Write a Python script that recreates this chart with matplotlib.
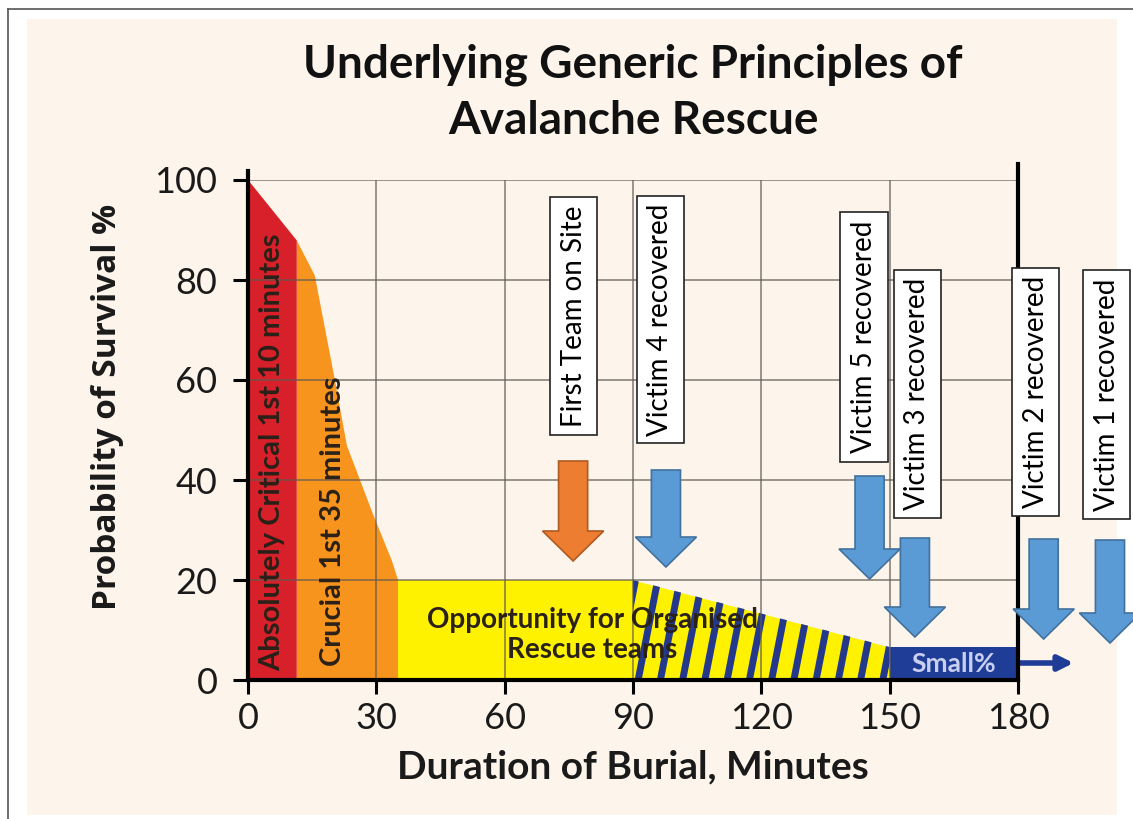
import numpy as np
import matplotlib.pyplot as plt
from matplotlib.patches import Polygon, Rectangle

# survival curve (minutes, %)
minutes = [0, 11.3, 15.5, 20, 23, 29, 33.5, 35, 90, 150, 180]
survival = [100, 88, 81, 61, 47, 33.5, 24, 20, 20, 6.6, 6.6]

zone_edges = [0, 11.3, 35, 90, 150, 180]
zone_colors = ['#d7202a', '#f7941d', '#fff200', '#fff200', '#1f3d97']

x_ticks = [0, 30, 60, 90, 120, 150, 180]
y_ticks = [0, 20, 40, 60, 80, 100]

# callouts: label, time (min), box bottom/top (%), arrow top/tip (%)
event_labels = ['First Team on Site', 'Victim 4 recovered', 'Victim 5 recovered',
                'Victim 3 recovered', 'Victim 2 recovered', 'Victim 1 recovered']
event_box_x = [76.1, 96.4, 144.0, 156.4, 184.1, 200.7]
event_arrow_x = [76.0, 97.7, 145.3, 155.9, 186.0, 201.5]
box_bottom = [49.0, 47.4, 43.6, 32.4, 32.8, 32.2]
box_top = [96.6, 96.8, 93.6, 82.0, 82.4, 82.0]
arrow_top = [43.8, 42.0, 40.8, 28.4, 28.2, 28.0]
arrow_tip = [23.8, 22.6, 20.2, 8.6, 8.2, 7.4]
arrow_face = ['#ed7d31', '#5b9bd5', '#5b9bd5', '#5b9bd5', '#5b9bd5', '#5b9bd5']
arrow_edge = ['#ae5a21', '#41719c', '#41719c', '#41719c', '#41719c', '#41719c']

cream = '#fdf5eb'
navy = '#1f3d97'
dark = '#2a2118'
narrow = ['Lato', 'DejaVu Sans']

W, H = 1133, 819
fig = plt.figure(figsize=(W / 100, H / 100), dpi=100)
fig.patch.set_facecolor('white')

# cream panel and frame lines
fig.patches.append(Rectangle((27 / W, 1 - 815 / H), (1117 - 27) / W, (815 - 19) / H,
                             transform=fig.transFigure, facecolor=cream, edgecolor='none', zorder=-5))
fig.lines.append(plt.Line2D([8 / W, 1], [1 - 9 / H, 1 - 9 / H], transform=fig.transFigure,
                            color='#555555', lw=1.2, zorder=-4))
fig.lines.append(plt.Line2D([8 / W, 8 / W], [0, 1 - 9 / H], transform=fig.transFigure,
                            color='#555555', lw=1.2, zorder=-4))

ax = fig.add_axes([248 / W, 139 / H, 770 / W, 500 / H])
ax.patch.set_alpha(0)
ax.set_xlim(0, 180)
ax.set_ylim(0, 100)

# coloured zones under the curve
for (a, b), c in zip(zip(zone_edges[:-1], zone_edges[1:]), zone_colors):
    xs = [a] + [m for m in minutes if a < m < b] + [b]
    ys = np.interp(xs, minutes, survival)
    ax.fill_between(xs, 0, ys, color=c, lw=0, zorder=1)

# striped "organised rescue" zone
xs = [90, 150]
ys = np.interp(xs, minutes, survival)
hatch_poly = Polygon([(90, 0), (90, ys[0]), (150, ys[1]), (150, 0)], closed=True,
                     facecolor='none', edgecolor='none')
ax.add_patch(hatch_poly)
for x0 in np.arange(86, 152, 5.2):
    ln, = ax.plot([x0, x0 + 4.7], [0, 20.5], color='#24388c', lw=5, zorder=1.5,
                  solid_capstyle='butt')
    ln.set_clip_path(hatch_poly)

# grid
for x in x_ticks[1:-1]:
    ax.plot([x, x], [0, 100], color='#5e5a52', lw=1.1, alpha=0.8, zorder=2)
for y in y_ticks[1:]:
    ax.plot([0, 180], [y, y], color='#5e5a52', lw=1.1, alpha=0.8, zorder=2)

# axis lines
for s in ['top', 'right', 'left']:
    ax.spines[s].set_visible(False)
ax.spines['bottom'].set_linewidth(3)
ax.spines['bottom'].set_zorder(4)
ax.plot([0, 0], [0, 101.8], color='black', lw=3, clip_on=False, zorder=4)
ax.plot([180, 180], [0, 103.2], color='black', lw=3, clip_on=False, zorder=4)

ax.set_xticks(x_ticks)
ax.set_yticks(y_ticks)
ax.tick_params(axis='x', direction='out', length=10, width=2.2, pad=6,
               labelsize=26, labelcolor='#1a1a1a')
ax.tick_params(axis='y', direction='out', length=11, width=2.2, pad=11,
               labelsize=26, labelcolor='#1a1a1a')
for lab in ax.get_xticklabels() + ax.get_yticklabels():
    lab.set_family(narrow)

ax.set_xlabel('Duration of Burial, Minutes', fontsize=28, fontweight='bold',
              family=narrow, color='#1a1a1a', labelpad=10)
ax.set_ylabel('Probability of Survival %', fontsize=24, fontweight='bold',
              family=['Open Sans', 'DejaVu Sans'], color='#1a1a1a', va='center')
ax.yaxis.set_label_coords(-0.182, 0.546)

fig.text(633 / W, 1 - 93 / H, 'Underlying Generic Principles of\nAvalanche Rescue',
         ha='center', va='center', fontsize=33, fontweight='bold', family=narrow,
         linespacing=1.4, color='#111111')

# zone labels
ax.text(5.6, 45.6, 'Absolutely Critical 1st 10 minutes', rotation=90, ha='center', va='center',
        fontsize=21, fontweight='bold', family=narrow, color=dark, zorder=3)
ax.text(19.9, 31.8, 'Crucial 1st 35 minutes', rotation=90, ha='center', va='center',
        fontsize=21, fontweight='bold', family=narrow, color=dark, zorder=3)
ax.text(80.5, 9.0, 'Opportunity for Organised\nRescue teams', ha='center', va='center',
        fontsize=20, fontweight='bold', family=narrow, color=dark, linespacing=1.2, zorder=3)
ax.text(165, 3.3, 'Small%', ha='center', va='center', fontsize=19, fontweight='bold',
        family=narrow, color='#c9d0ef', zorder=3)
ax.annotate('', xy=(193, 3.4), xytext=(180.5, 3.4), annotation_clip=False,
            arrowprops=dict(arrowstyle='-|>', lw=4, color=navy, mutation_scale=22,
                            shrinkA=0, shrinkB=0))

# callout boxes and arrows
box_w = 11.0
shaft_w = 6.8
head_w = 14.3
head_len = 6.0
for lab, bx, axx, b0, b1, a0, a1, fc, ec in zip(event_labels, event_box_x, event_arrow_x,
                                               box_bottom, box_top, arrow_top, arrow_tip,
                                               arrow_face, arrow_edge):
    ax.add_patch(Rectangle((bx - box_w / 2, b0), box_w, b1 - b0, facecolor='white',
                           edgecolor='#222222', lw=1.2, clip_on=False, zorder=5))
    ax.text(bx, (b0 + b1) / 2, lab, rotation=90, ha='center', va='center', fontsize=20,
            family=['Lato', 'DejaVu Sans'], color='black', zorder=6, clip_on=False)
    hs = a1 + head_len
    pts = [(axx - shaft_w / 2, a0), (axx + shaft_w / 2, a0), (axx + shaft_w / 2, hs),
           (axx + head_w / 2, hs), (axx, a1), (axx - head_w / 2, hs), (axx - shaft_w / 2, hs)]
    ax.add_patch(Polygon(pts, closed=True, facecolor=fc, edgecolor=ec, lw=1.2,
                         clip_on=False, zorder=5))

fig.savefig('out.png', dpi=100)
